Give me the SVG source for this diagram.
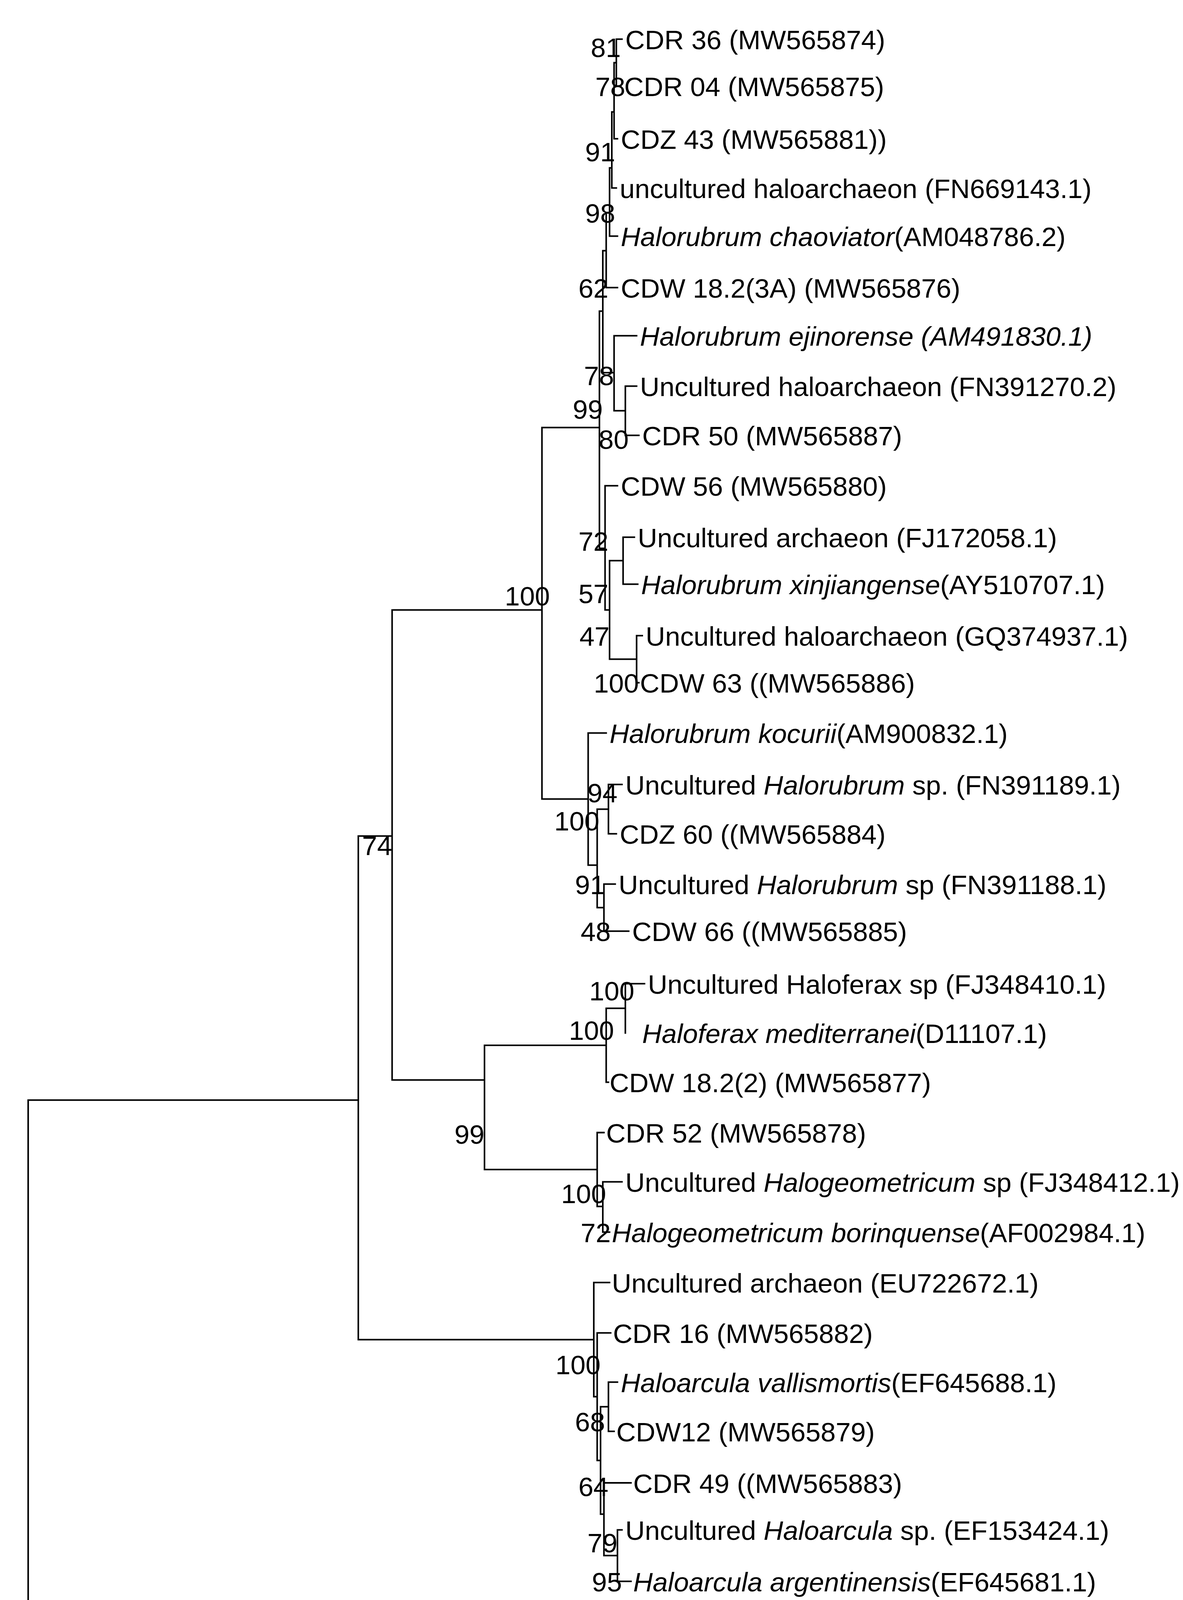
<svg xmlns="http://www.w3.org/2000/svg" width="3028" height="4492" viewBox="0 0 3028 4492">
<style>
.e{fill:none;stroke:#000;stroke-width:1.4;stroke-linecap:square}
text{font-family:"Liberation Sans",Arial,sans-serif;font-size:24px;fill:#000}
.b{text-anchor:end}
.i{font-style:italic}
</style>
<rect width="3028" height="4492" fill="#fff"/>
<g transform="scale(2.884 2.865)">
<g id="connectors">
<path class="e" d="M25,983V1458H557M25,983H318M318,747V1197M318,747H348M348,545V965M348,545H481M481,382V714M481,382H532M532,278V490M532,278H535M535,224V333M535,224H538M538,190V257H548M538,190H541M541,150V211H548M541,150H543M543,100V168H547M543,100H545M545,56V124H548M545,56H547M547,35V77M547,35H552M547,77H551M535,333H545M545,300V367M545,300H565M545,367H555M555,345V389M555,345H565M555,389H567M532,490H537M537,434V545M537,434H548M537,545H541M541,501V589M541,501H553M553,480V522M553,480H563M553,522H566M541,589H565M565,568V610M565,568H570M565,610H567M481,714H522M522,655V773M522,655H538M522,773H530M530,723V811M530,723H540M540,701V745M540,701H552M540,745H547M530,811H536M536,790V832M536,790H546M536,832H558M348,965H430M430,934V1045M430,934H538M538,901V967M538,901H555M555,879V923M555,879H572M555,923H555M538,967H540M430,1045H530M530,1012V1078M530,1012H536M530,1078H535M535,1056V1101M535,1056H552M535,1101H541M318,1197H527M527,1146V1248M527,1146H541M527,1248H530M530,1191V1305M530,1191H542M530,1305H533M533,1257V1353M533,1257H540M540,1235V1279M540,1235H548M540,1279H545M533,1353H536M536,1325V1390M536,1325H560M536,1390H548M548,1367V1413M548,1367H552M548,1413H560"/>
<path class="e" d="M92,1524H178M92,1516V1532M178,1516V1532"/>
</g>
<g id="leaves">
<text x="555" y="44">CDR 36 (MW565874)</text>
<text x="554" y="86">CDR 04 (MW565875)</text>
<text x="551" y="133">CDZ 43 (MW565881))</text>
<text x="550" y="177">uncultured haloarchaeon (FN669143.1)</text>
<text x="551" y="220"><tspan class="i">Halorubrum chaoviator</tspan>(AM048786.2)</text>
<text x="551" y="266">CDW 18.2(3A) (MW565876)</text>
<text x="568" y="309" class="i">Halorubrum ejinorense (AM491830.1)</text>
<text x="568" y="354">Uncultured haloarchaeon (FN391270.2)</text>
<text x="570" y="398">CDR 50 (MW565887)</text>
<text x="551" y="443">CDW 56 (MW565880)</text>
<text x="566" y="489">Uncultured archaeon (FJ172058.1)</text>
<text x="569" y="531"><tspan class="i">Halorubrum xinjiangense</tspan>(AY510707.1)</text>
<text x="573" y="577">Uncultured haloarchaeon (GQ374937.1)</text>
<text x="568" y="619">CDW 63 ((MW565886)</text>
<text x="541" y="664"><tspan class="i">Halorubrum kocurii</tspan>(AM900832.1)</text>
<text x="555" y="710">Uncultured <tspan class="i">Halorubrum</tspan> sp. (FN391189.1)</text>
<text x="550" y="754">CDZ 60 ((MW565884)</text>
<text x="549" y="799">Uncultured <tspan class="i">Halorubrum</tspan> sp (FN391188.1)</text>
<text x="561" y="841">CDW 66 ((MW565885)</text>
<text x="575" y="888">Uncultured Haloferax sp (FJ348410.1)</text>
<text x="570" y="932"><tspan class="i">Haloferax mediterranei</tspan>(D11107.1)</text>
<text x="541" y="976">CDW 18.2(2) (MW565877)</text>
<text x="538" y="1021">CDR 52 (MW565878)</text>
<text x="555" y="1065">Uncultured <tspan class="i">Halogeometricum</tspan> sp (FJ348412.1)</text>
<text x="543" y="1110"><tspan class="i">Halogeometricum borinquense</tspan>(AF002984.1)</text>
<text x="543" y="1155">Uncultured archaeon (EU722672.1)</text>
<text x="544" y="1200">CDR 16 (MW565882)</text>
<text x="551" y="1244"><tspan class="i">Haloarcula vallismortis</tspan>(EF645688.1)</text>
<text x="547" y="1288">CDW12 (MW565879)</text>
<text x="562" y="1334">CDR 49 ((MW565883)</text>
<text x="555" y="1376">Uncultured <tspan class="i">Haloarcula</tspan> sp. (EF153424.1)</text>
<text x="562" y="1422"><tspan class="i">Haloarcula argentinensis</tspan>(EF645681.1)</text>
<text x="576" y="1467"><tspan class="i">Sulfolobus metallicus</tspan>(D85519.1)</text>
</g>
<g id="bootstrap">
<text class="b" x="551" y="51">81</text>
<text class="b" x="555" y="86">78</text>
<text class="b" x="546" y="144">91</text>
<text class="b" x="546" y="199">98</text>
<text class="b" x="540" y="266">62</text>
<text class="b" x="545" y="344">78</text>
<text class="b" x="535" y="374">99</text>
<text class="b" x="558" y="401">80</text>
<text class="b" x="488" y="541">100</text>
<text class="b" x="540" y="492">72</text>
<text class="b" x="540" y="539">57</text>
<text class="b" x="541" y="577">47</text>
<text class="b" x="567" y="619">100</text>
<text class="b" x="548" y="717">94</text>
<text class="b" x="532" y="742">100</text>
<text class="b" x="537" y="799">91</text>
<text class="b" x="542" y="841">48</text>
<text class="b" x="348" y="764">74</text>
<text class="b" x="563" y="894">100</text>
<text class="b" x="545" y="929">100</text>
<text class="b" x="430" y="1022">99</text>
<text class="b" x="538" y="1075">100</text>
<text class="b" x="542" y="1110">72</text>
<text class="b" x="533" y="1228">100</text>
<text class="b" x="537" y="1279">68</text>
<text class="b" x="540" y="1337">64</text>
<text class="b" x="548" y="1387">79</text>
<text class="b" x="552" y="1422">95</text>
<text x="135" y="1562" style="text-anchor:middle;font-size:20px">0.02</text>
</g>
</g>
</svg>
